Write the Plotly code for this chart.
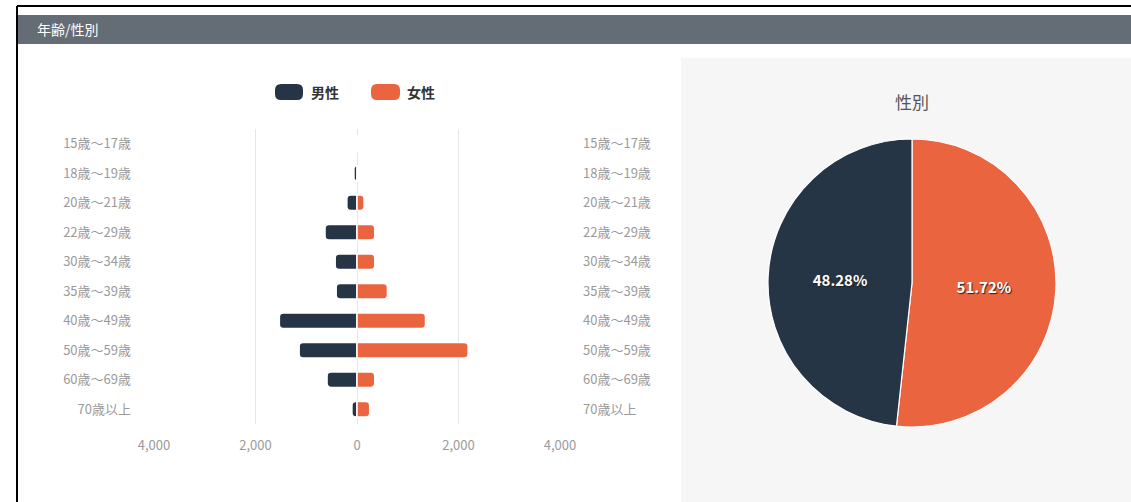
import plotly.graph_objects as go

# ---- data ----
age_groups = ["15歳～17歳", "18歳～19歳", "20歳～21歳", "22歳～29歳", "30歳～34歳",
              "35歳～39歳", "40歳～49歳", "50歳～59歳", "60歳～69歳", "70歳以上"]
male_counts = [30, 60, 200, 630, 430, 410, 1530, 1140, 590, 100]
female_counts = [10, 20, 140, 350, 350, 600, 1350, 2190, 350, 250]
gender_labels = ["女性", "男性"]
gender_share = [51.72, 48.28]
tick_values = [-4000, -2000, 0, 2000, 4000]
tick_labels = ["4,000", "2,000", "0", "2,000", "4,000"]

MALE = "#253545"
FEMALE = "#EB6440"
FONT = "Noto Sans CJK JP"
W, H = 1147, 502   # figure size
OX = 16            # horizontal inset of the drawing area
EFF_W = W - 2 * OX


def px(x):
    # page pixel -> paper fraction
    return (x - OX) / EFF_W


def py(y):
    return 1 - y / H


fig = go.Figure()

# population pyramid: men to the left, women to the right
fig.add_trace(go.Bar(
    y=age_groups, x=[-v for v in male_counts], name="男性", orientation="h",
    marker=dict(color=MALE, cornerradius=4, line=dict(color="white", width=1.5)),
    showlegend=False, hoverinfo="skip",
))
fig.add_trace(go.Bar(
    y=age_groups, x=female_counts, name="女性", orientation="h",
    marker=dict(color=FEMALE, cornerradius=4, line=dict(color="white", width=1.5)),
    showlegend=False, hoverinfo="skip",
))
# invisible helper so the right-hand category axis is drawn
fig.add_trace(go.Scatter(
    y=age_groups, x=[0] * len(age_groups), yaxis="y2", mode="markers",
    marker=dict(opacity=0), showlegend=False, hoverinfo="skip",
))

# gender pie
fig.add_trace(go.Pie(
    labels=gender_labels, values=gender_share, sort=False,
    direction="clockwise", rotation=0,
    marker=dict(colors=[FEMALE, MALE], line=dict(color="white", width=1.2)),
    texttemplate="%{value:.2f}%", textposition="inside", insidetextorientation="horizontal",
    textfont=dict(family=FONT, size=15, color="white", weight="bold",
                  shadow="1px 1px 1px #222"),
    domain=dict(x=[px(768), px(1056)], y=[py(427), py(139)]),
    showlegend=False, hoverinfo="skip",
))

axis_font = dict(family=FONT, size=13, color="#9a9a9a")
cat_axis = dict(type="category", categoryorder="array", categoryarray=age_groups,
                range=[len(age_groups) - 0.5, -0.5], showgrid=False, zeroline=False,
                ticks="", tickfont=axis_font, ticklabelstandoff=22, fixedrange=True)
fig.update_layout(
    width=W, height=H, autosize=False,
    margin=dict(l=0, r=0, t=0, b=0),
    paper_bgcolor="white", plot_bgcolor="rgba(0,0,0,0)",
    barmode="relative", bargap=0.48,
    xaxis=dict(domain=[px(154), px(560)], range=[-4000, 4000],
               tickvals=tick_values, ticktext=tick_labels,
               showgrid=True, gridcolor="#e6e6e6", gridwidth=1,
               zeroline=False, showline=False, ticks="", tickfont=axis_font,
               ticklabelstandoff=12, fixedrange=True),
    yaxis=dict(domain=[py(424), py(129)], **cat_axis),
    yaxis2=dict(overlaying="y", side="right", **cat_axis),
    showlegend=False,
)


def pill(x0, x1, y0, y1, r, color):
    # rounded rectangle given in pixels, converted to paper coordinates
    pts = (f"M {px(x0 + r)},{py(y0)} L {px(x1 - r)},{py(y0)} "
           f"Q {px(x1)},{py(y0)} {px(x1)},{py(y0 + r)} L {px(x1)},{py(y1 - r)} "
           f"Q {px(x1)},{py(y1)} {px(x1 - r)},{py(y1)} L {px(x0 + r)},{py(y1)} "
           f"Q {px(x0)},{py(y1)} {px(x0)},{py(y1 - r)} L {px(x0)},{py(y0 + r)} "
           f"Q {px(x0)},{py(y0)} {px(x0 + r)},{py(y0)} Z")
    return dict(type="path", xref="paper", yref="paper", path=pts,
                fillcolor=color, line=dict(width=0))


frame_x = max(8, OX + 1)
shapes = [
    # outer frame (top and left edges)
    dict(type="line", xref="paper", yref="paper", x0=px(frame_x), x1=1, y0=py(6), y1=py(6),
         line=dict(color="black", width=2)),
    dict(type="line", xref="paper", yref="paper", x0=px(frame_x), x1=px(frame_x), y0=py(6), y1=0,
         line=dict(color="black", width=2)),
    # section header bar
    dict(type="rect", xref="paper", yref="paper", x0=px(18), x1=1, y0=py(44), y1=py(15),
         fillcolor="#646d76", line=dict(width=0), layer="below"),
    # pie panel background
    dict(type="rect", xref="paper", yref="paper", x0=px(681), x1=1, y0=0, y1=py(58),
         fillcolor="#f6f6f6", line=dict(width=0), layer="below"),
    # legend swatches
    pill(275, 303, 84, 100, 6, MALE),
    pill(371, 400, 84, 100, 6, FEMALE),
]
fig.update_layout(shapes=shapes)

annotations = [
    dict(text="年齢/性別", x=px(35), y=py(29.5), xanchor="left", yanchor="middle",
         font=dict(family=FONT, size=14, color="white")),
    dict(text="男性", x=px(309), y=py(92), xanchor="left", yanchor="middle",
         font=dict(family=FONT, size=14, color="#333333", weight="bold")),
    dict(text="女性", x=px(405), y=py(92), xanchor="left", yanchor="middle",
         font=dict(family=FONT, size=14, color="#333333", weight="bold")),
    dict(text="性別", x=px(912), y=py(101), xanchor="center", yanchor="middle",
         font=dict(family=FONT, size=17, color="#555555")),
]
for a in annotations:
    a.update(xref="paper", yref="paper", showarrow=False)
fig.update_layout(annotations=annotations)

fig.write_html("out.html", config={"responsive": False})
